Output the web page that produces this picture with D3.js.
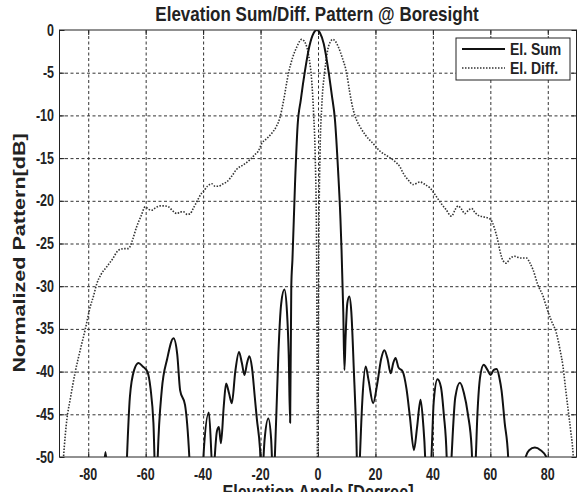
<html>
<head>
<meta charset="utf-8">
<title>Elevation Sum/Diff. Pattern</title>
<script src="https://cdn.jsdelivr.net/npm/d3@7/dist/d3.min.js"></script>
<style>
  body { margin: 0; background: #fff; }
  text { font-family: "Liberation Sans", Arial, sans-serif; font-weight: bold; fill: #222; }
</style>
</head>
<body>
<script>
// (angle in degrees, level in dB)
var sumAngle = [-90, -75.5, -74, -72.5, -67.5, -66.5, -65.5, -64, -62.5, -61, -59.4, -58.3, -57.3, -56.3,
  -55.8, -54.4, -52.5, -50.3, -49, -48, -46.3, -44.8, -44,
  -40.5, -39.9, -38, -36.6, -35.2, -34.5, -33.8, -32.8, -32, -31, -30, -28.8, -27.5, -26.5, -25.6, -24.7, -23.9,
  -23, -22, -21.3, -20.2, -19.6, -18.6, -17.3, -16.3, -15.6, -14.5, -13.8, -12.8, -11.7, -10.8, -10.2, -9.7,
  -9.3, -8.9, -8, -7.1, -6, -4.5, -3, -1.5, -0.4, 0.7, 2, 3.6, 4.8, 5.9, 7, 7.8, 8.2, 8.8, 9.2,
  9.6, 10.2, 10.9, 11.6, 12.5, 13.3, 14,
  14.6, 15.5, 16.6, 17.6, 19.2, 20.6, 22, 23.1, 24.2, 25.3, 26.2, 27, 28, 29.5, 30.8, 32, 33.4, 34.5, 35.7, 36.6, 37.3, 37.8,
  39.2, 39.5, 40.3, 41.6, 42.8, 43.8, 44.8, 45.2,
  46.2, 46.5, 47.8, 49.4, 50.8, 52.2, 53.5, 54,
  54.8, 55.5, 56.5, 57.7, 59, 60.1, 61.2, 62.2, 63.2, 63.9, 65, 66.2, 66.8,
  71.5, 72.3, 73.5, 75.5, 77.5, 79.5, 80.5, 90]
var sumDb = [-60, -55, -49.4, -55, -60, -50, -43, -39.8, -39.0, -39.4, -40.0, -42, -46, -56,
  -50, -42.2, -38.5, -36.1, -38, -42.2, -43.9, -50, -56,
  -56, -50, -44.8, -52, -47.0, -46.5, -48.4, -44, -41.4, -42.5, -43.7, -40, -37.7, -39, -40.4, -39, -38.2,
  -39.5, -43, -45.5, -49, -53, -48, -45.5, -48, -53, -45, -38, -32, -30.4, -33, -38, -46,
  -30, -26.9, -18, -11.2, -8.2, -4.7, -1.9, -0.35, 0, -0.35, -1.6, -4.7, -7.6, -10.5, -16.5, -22, -25.8, -33, -39.8,
  -36, -32, -31.2, -33, -40, -47, -56,
  -50, -43, -39.4, -41, -43.7, -41.5, -38.5, -37.5, -38.5, -40.2, -39, -38.4, -39.5, -40.0, -42, -45.3, -49.2, -46.5, -43.3, -46, -50, -56,
  -52, -50, -43.5, -40.9, -41.8, -45, -50, -56,
  -52, -50, -43, -41.3, -42.5, -45, -49, -53,
  -51, -45, -40.5, -39.2, -39.8, -40.4, -39.8, -39.7, -40.8, -42.2, -46, -50, -56,
  -55, -50, -49.2, -48.9, -49.2, -50, -55, -60]

var diffAngle = [-89, -88.6, -87.4, -86.3, -84.5, -82.8, -81, -79.3, -78.2, -77, -75.5, -73.5, -71.5, -69.5, -67.5,
  -66, -64.5, -63.1, -61.5, -60.2, -59, -57.9, -56.5, -55, -53.5, -52.1, -50.5, -49.1, -48, -46.8, -45.5, -44.5,
  -43.3, -42.2, -40.5, -39.9, -38.5, -37, -35.8, -34.7, -33, -31.8, -30, -28.3, -26, -23.7, -22, -20.8, -19.6,
  -17.8, -16.1, -14.5, -13.2, -12, -10.3, -8.8, -7.4, -5.7, -4.8, -3.9, -3, -2.2, -1.5, -1.0, -0.5, -0.1,
  0.3, 0.7, 1.3, 2.4, 3.6, 4.3, 5.1, 6, 7.1, 8.5, 10, 11, 12.3, 13.5, 14.6, 16.5, 19.2, 21.6, 23.9, 26.8,
  28.5, 29.7, 31.5, 33.1, 35.5, 37.3, 39, 40.8, 42.4, 44.5, 46.5, 47.8, 48.8, 50, 51.1, 52.4, 53.5, 54.7,
  55.8, 57.8, 59.8, 60.8, 61.6, 62.5, 63.3, 64.4, 65.5, 67, 68.5, 70.5, 72.6, 73.8, 74.9, 76.5, 78.4, 79.5,
  81.2, 83, 84.3, 85.3, 86.2, 87.1, 88, 88.8, 89.2]
var diffDb = [-52, -50, -45.5, -43.3, -40, -37.5, -35, -32.4, -31.2, -29.7, -28.6, -27.7, -26.8, -25.8, -25.6,
  -25.6, -24.5, -23.0, -21.7, -20.7, -21, -21.1, -20.8, -20.6, -20.6, -20.7, -21.2, -21.5, -21.3, -21.3, -21.6, -21.5,
  -20.8, -20.1, -19.1, -18.9, -18.3, -18.0, -18.3, -18.3, -18.0, -17.8, -17.1, -16.3, -15.8, -15.2, -14.6, -14.2, -13.3,
  -12.7, -12.1, -11.3, -10.2, -8.3, -5.1, -3.2, -2.0, -1.1, -1.3, -2.0, -3.5, -5.9, -10, -14.4, -25, -55,
  -25, -14.4, -9, -4.7, -2.0, -1.4, -1.1, -1.3, -2.0, -3.3, -5.1, -7.2, -9.4, -10.6, -11.3, -12.3, -13.3, -14.2, -14.7, -15.4,
  -16.0, -16.8, -17.6, -18.1, -17.8, -18.1, -18.5, -19.3, -20.1, -21.0, -21.8, -21.0, -20.6, -21.0, -21.5, -21.1, -20.9, -21.4,
  -21.7, -21.9, -22.1, -22.6, -23.4, -24.5, -25.8, -27.0, -27.3, -26.7, -26.5, -26.7, -26.7, -27.3, -28.1, -29.8, -31.2, -32.4,
  -34, -35.5, -37.5, -39.4, -42, -44.5, -47, -49.6, -52]

var xTicks = [-80, -60, -40, -20, 0, 20, 40, 60, 80]
var yTicks = [0, -5, -10, -15, -20, -25, -30, -35, -40, -45, -50]
var seriesNames = ["El. Sum", "El. Diff."]

var width = 587
var height = 492
var pLeft = 59.5, pRight = 576.5, pTop = 30, pBottom = 457

var svg = d3.select("body").append("svg")
  .attr("width", width)
  .attr("height", height)

var x = d3.scaleLinear().domain([-90, 90]).range([pLeft, pRight])
var y = d3.scaleLinear().domain([-50, 0]).range([pBottom, pTop])

// text in the picture is stretched a bit vertically
function label(px, py, str, size, anchor, sy) {
  return svg.append("text")
    .attr("transform", "translate(" + px + "," + py + ") scale(1," + sy + ")")
    .attr("text-anchor", anchor)
    .style("font-size", size + "px")
    .text(str)
}

svg.append("defs").append("clipPath").attr("id", "plot")
  .append("rect")
    .attr("x", pLeft).attr("y", pTop)
    .attr("width", pRight - pLeft).attr("height", pBottom - pTop)

// grid
var grid = svg.append("g")
grid.append("g")
  .attr("transform", "translate(0," + pBottom + ")")
  .call(d3.axisBottom(x).tickValues(xTicks).tickSize(-(pBottom - pTop)).tickFormat(""))
grid.append("g")
  .attr("transform", "translate(" + pLeft + ",0)")
  .call(d3.axisLeft(y).tickValues(yTicks.filter(v => v > -50 && v < 0)).tickSize(-(pRight - pLeft)).tickFormat(""))
grid.selectAll(".domain").remove()
grid.selectAll("line").attr("stroke", "#333").attr("stroke-dasharray", "3,2.5")

// inside ticks on all four sides
var tk = 5
var ticks = svg.append("g")
ticks.append("g").attr("transform", "translate(0," + pBottom + ")")
  .call(d3.axisTop(x).tickValues(xTicks).tickSize(tk).tickFormat(""))
ticks.append("g").attr("transform", "translate(0," + pTop + ")")
  .call(d3.axisBottom(x).tickValues(xTicks).tickSize(tk).tickFormat(""))
ticks.append("g").attr("transform", "translate(" + pLeft + ",0)")
  .call(d3.axisRight(y).tickValues(yTicks).tickSize(tk).tickFormat(""))
ticks.append("g").attr("transform", "translate(" + pRight + ",0)")
  .call(d3.axisLeft(y).tickValues(yTicks).tickSize(tk).tickFormat(""))
ticks.selectAll(".domain").remove()
ticks.selectAll("line").attr("stroke", "#222")

// curves
var sumPts = sumAngle.map((a, i) => [a, sumDb[i]])
var diffPts = diffAngle.map((a, i) => [a, diffDb[i]])
var line = d3.line().x(d => x(d[0])).y(d => y(d[1])).curve(d3.curveMonotoneX)

var plot = svg.append("g").attr("clip-path", "url(#plot)")
plot.append("path")
  .attr("d", line(diffPts))
  .attr("fill", "none")
  .attr("stroke", "#333")
  .attr("stroke-width", 1.6)
  .attr("stroke-dasharray", "1.5,1.5")
plot.append("path")
  .attr("d", line(sumPts))
  .attr("fill", "none")
  .attr("stroke", "#111")
  .attr("stroke-width", 2)
  .attr("stroke-linejoin", "round")

// box
svg.append("rect")
  .attr("x", pLeft).attr("y", pTop)
  .attr("width", pRight - pLeft).attr("height", pBottom - pTop)
  .attr("fill", "none").attr("stroke", "#222")

// tick labels
xTicks.forEach(function(v) { label(x(v), 480, v, 12.5, "middle", 1.3) })
yTicks.forEach(function(v) { label(54, y(v) + 5.5, v, 12.5, "end", 1.3) })

// titles
label(317, 20.5, "Elevation Sum/Diff. Pattern @ Boresight", 17, "middle", 1.2)
label(318, 499, "Elevation Angle [Degree]", 16.2, "middle", 1.25)
svg.append("text")
  .attr("transform", "translate(25,253) rotate(-90) scale(1.33,1)")
  .attr("text-anchor", "middle")
  .style("font-size", "16.2px")
  .text("Normalized Pattern[dB]")

// legend
var lg = svg.append("g")
lg.append("rect")
  .attr("x", 456).attr("y", 38).attr("width", 114).attr("height", 42)
  .attr("fill", "#fff").attr("stroke", "#222")
lg.append("line").attr("x1", 462).attr("x2", 505).attr("y1", 49).attr("y2", 49)
  .attr("stroke", "#111").attr("stroke-width", 2)
lg.append("line").attr("x1", 462).attr("x2", 505).attr("y1", 68).attr("y2", 68)
  .attr("stroke", "#333").attr("stroke-width", 1.6).attr("stroke-dasharray", "1.5,1.5")
label(510, 54.5, seriesNames[0], 14, "start", 1.2)
label(510, 73.5, seriesNames[1], 14, "start", 1.2)
</script>
</body>
</html>
